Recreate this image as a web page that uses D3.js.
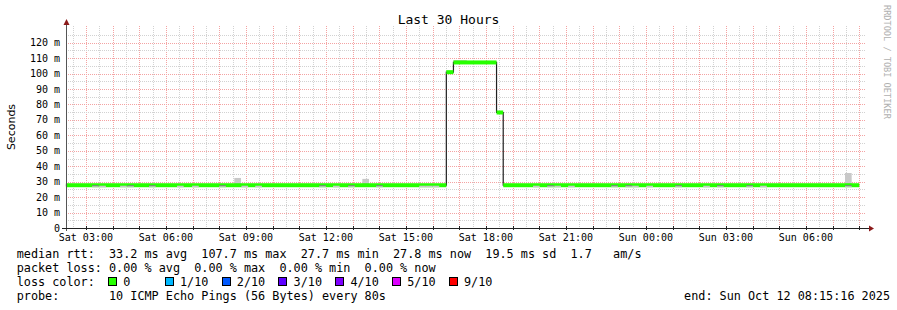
<!DOCTYPE html>
<html>
<head>
<meta charset="utf-8">
<script src="https://cdn.jsdelivr.net/npm/d3@7"></script>
<style>
  body { margin: 0; background: #fff; }
  svg { display: block; }
  .mono { font-family: 'DejaVu Sans Mono', monospace; }
</style>
</head>
<body>
<svg id="chart" width="897" height="310"></svg>
<script>
// ---- data ----
let chartTitle = 'Last 30 Hours'
let rangeStart = 'Sat 02:15:16'
let rangeEnd = 'Sun 08:15:16'

// median rtt (ms), one step per segment start, last one runs until medianUntil
let medianFrom = ['Sat 02:15', 'Sat 16:31', 'Sat 16:47', 'Sat 18:24', 'Sat 18:39']
let medianValue = [27.7, 100.9, 107.2, 74.8, 27.7]
let medianUntil = 'Sun 08:00'

// smoke above the median (light gray bumps)
let smokeUpAt = ['Sat 08:34', 'Sat 13:22', 'Sat 16:47', 'Sat 17:02', 'Sun 07:28']
let smokeUpHi = [32.4, 31.8, 108.8, 108.8, 35.6]

// smoke below the median, tone 2 = darker, 1 = lighter
let smokeDownAt = ['Sat 03:14', 'Sat 03:30', 'Sat 04:17', 'Sat 04:33', 'Sat 05:22', 'Sat 06:25',
  'Sat 06:59', 'Sat 08:00', 'Sat 08:50', 'Sat 09:21', 'Sat 11:45', 'Sat 12:16', 'Sat 12:50',
  'Sat 13:53', 'Sat 15:30', 'Sat 15:45', 'Sat 16:00', 'Sat 19:46', 'Sat 20:18', 'Sat 20:34',
  'Sat 21:05', 'Sat 22:42', 'Sat 23:14', 'Sat 23:29', 'Sun 00:01', 'Sun 01:06', 'Sun 02:09',
  'Sun 02:40', 'Sun 03:46', 'Sun 04:17', 'Sun 07:28']
let smokeDownTone = [2, 1, 1, 2, 2, 1, 1, 2, 1, 1, 2, 1, 2, 2, 1, 1, 1, 1, 2, 1, 1, 2, 2, 1, 1, 2, 1, 2, 2, 1, 2]
let smokeDownLo = 26.4
let smokeStepMin = 15

let yTicks = [0, 10, 20, 30, 40, 50, 60, 70, 80, 90, 100, 110, 120]

let legendRtt = 'median rtt:  33.2 ms avg  107.7 ms max  27.7 ms min  27.8 ms now  19.5 ms sd  1.7   am/s'
let legendLoss = 'packet loss: 0.00 % avg  0.00 % max  0.00 % min  0.00 % now'
let lossLabels = ['0', '1/10', '2/10', '3/10', '4/10', '5/10', '9/10']
let lossColors = ['#26ff00', '#00b8ff', '#0059ff', '#5e00ff', '#7e00ff', '#dd00ff', '#ff0000']
let probeText = 'probe:       10 ICMP Echo Pings (56 Bytes) every 80s'
let endText = 'end: Sun Oct 12 08:15:16 2025'

// ---- helpers ----
let parseT = (s) => {
  // 'Sat 02:15' or 'Sat 02:15:16' -> Date (Sat = Oct 11 2025, Sun = Oct 12 2025)
  let parts = s.split(' ')
  let day = parts[0] == 'Sat' ? 11 : 12
  let hms = parts[1].split(':').map(Number)
  return new Date(2025, 9, day, hms[0], hms[1], hms[2] || 0)
}
let addMin = (d, m) => new Date(d.getTime() + m * 60000)

let svg = d3.select('#chart')

let plotL = 66, plotR = 866, plotT = 26, plotB = 228

let xScale = d3.scaleTime()
  .domain([parseT(rangeStart), parseT(rangeEnd)])
  .range([plotL, plotR])
let yScale = d3.scaleLinear()
  .domain([0, 130.8])
  .range([plotB, plotT])

let crisp = (v) => Math.round(v) + 0.5

// ---- grid ----
let grid = svg.append('g')

let halfHours = d3.timeMinute.every(30).range(xScale.domain()[0], xScale.domain()[1])
halfHours.forEach(t => {
  let major = t.getMinutes() == 0
  grid.append('line')
    .attr('x1', crisp(xScale(t))).attr('x2', crisp(xScale(t)))
    .attr('y1', plotT).attr('y2', plotB)
    .attr('stroke', major ? '#f4a3a3' : '#d2d2d2')
    .attr('stroke-dasharray', '1,1')
})

let fives = d3.range(5, 130, 5)
fives.forEach(v => {
  let major = v % 10 == 0
  grid.append('line')
    .attr('x1', plotL).attr('x2', plotR)
    .attr('y1', crisp(yScale(v))).attr('y2', crisp(yScale(v)))
    .attr('stroke', major ? '#f4a3a3' : '#d2d2d2')
    .attr('stroke-dasharray', '1,1')
})

// ---- smoke above median (behind the median band) ----
let marks = svg.append('g')
let medStarts = medianFrom.map(parseT)
smokeUpAt.forEach((s, i) => {
  let t = parseT(s)
  let seg = medStarts.filter(d => d <= t).length - 1
  let base = medianValue[seg]
  marks.append('rect')
    .attr('x', xScale(t))
    .attr('width', xScale(addMin(t, smokeStepMin)) - xScale(t))
    .attr('y', yScale(smokeUpHi[i]))
    .attr('height', yScale(base) - yScale(smokeUpHi[i]))
    .attr('fill', '#c8c8c8')
})

// ---- median: black step line then loss coloured band ----
let medPts = []
medianFrom.forEach((s, i) => {
  let t0 = medStarts[i]
  let t1 = i + 1 < medianFrom.length ? medStarts[i + 1] : parseT(medianUntil)
  medPts.push([t0, medianValue[i]])
  medPts.push([t1, medianValue[i]])
})
let medLine = d3.line()
  .x(d => xScale(d[0]))
  .y(d => yScale(d[1]))
marks.append('path')
  .attr('d', medLine(medPts))
  .attr('fill', 'none')
  .attr('stroke', '#202020')
  .attr('stroke-width', 1.2)

medianFrom.forEach((s, i) => {
  let t0 = medStarts[i]
  let t1 = i + 1 < medianFrom.length ? medStarts[i + 1] : parseT(medianUntil)
  marks.append('rect')
    .attr('x', xScale(t0))
    .attr('width', xScale(t1) - xScale(t0))
    .attr('y', yScale(medianValue[i]) - 2)
    .attr('height', 4)
    .attr('fill', lossColors[0])
})

// ---- smoke below median ----
smokeDownAt.forEach((s, i) => {
  let t = parseT(s)
  let x0 = xScale(t), w = xScale(addMin(t, smokeStepMin)) - x0
  let yHi = yScale(medianValue[0]), yLo = yScale(smokeDownLo)
  if (smokeDownTone[i] == 2) {
    marks.append('rect').attr('x', x0).attr('width', w)
      .attr('y', yHi).attr('height', (yLo - yHi) / 2).attr('fill', '#857d8c')
    marks.append('rect').attr('x', x0).attr('width', w)
      .attr('y', yHi + (yLo - yHi) / 2).attr('height', (yLo - yHi) / 2).attr('fill', '#c4c4c4')
  } else {
    marks.append('rect').attr('x', x0).attr('width', w)
      .attr('y', yHi + (yLo - yHi) / 2 - 0.5).attr('height', (yLo - yHi) / 2 + 0.5).attr('fill', '#c8c8c8')
  }
})

// ---- axes ----
let axes = svg.append('g')
axes.append('line')
  .attr('x1', crisp(plotL)).attr('x2', crisp(plotL))
  .attr('y1', 24).attr('y2', plotB + 3)
  .attr('stroke', '#555')
axes.append('line')
  .attr('x1', plotL - 4).attr('x2', plotR + 4)
  .attr('y1', crisp(plotB)).attr('y2', crisp(plotB))
  .attr('stroke', '#222')
axes.append('path')
  .attr('d', `M${crisp(plotL) - 3},25 L${crisp(plotL) + 3},25 L${crisp(plotL)},19 Z`)
  .attr('fill', '#8b1a1a')
axes.append('path')
  .attr('d', `M${plotR + 3},${crisp(plotB) - 3} L${plotR + 3},${crisp(plotB) + 3} L${plotR + 8},${crisp(plotB)} Z`)
  .attr('fill', '#8b1a1a')

// x ticks and labels
let hours = d3.timeHour.every(1).range(xScale.domain()[0], xScale.domain()[1])
hours.forEach(t => {
  axes.append('line')
    .attr('x1', crisp(xScale(t))).attr('x2', crisp(xScale(t)))
    .attr('y1', plotB - 2).attr('y2', plotB + 2)
    .attr('stroke', '#222')
})
let labelHours = d3.timeHour.every(3).range(xScale.domain()[0], xScale.domain()[1])
let fmt = d3.timeFormat('%a %H:%M')
axes.selectAll('.xlab')
  .data(labelHours)
  .enter()
  .append('text')
  .attr('class', 'mono')
  .attr('x', d => xScale(d))
  .attr('y', 241)
  .attr('text-anchor', 'middle')
  .attr('font-size', '10px')
  .attr('fill', '#000')
  .text(d => fmt(d))

// y labels
axes.selectAll('.ylab')
  .data(yTicks)
  .enter()
  .append('text')
  .attr('class', 'mono')
  .attr('x', 60)
  .attr('y', d => yScale(d) + 3.5)
  .attr('text-anchor', 'end')
  .attr('font-size', '10px')
  .attr('fill', '#000')
  .text(d => d == 0 ? '0' : d + ' m')

// title, y title, watermark
svg.append('text')
  .attr('class', 'mono')
  .attr('x', 448.5).attr('y', 24)
  .attr('text-anchor', 'middle')
  .attr('font-size', '13px')
  .text(chartTitle)

svg.append('text')
  .attr('transform', 'translate(15,127) rotate(-90)')
  .attr('text-anchor', 'middle')
  .attr('font-family', 'DejaVu Sans, sans-serif')
  .attr('font-size', '11px')
  .text('Seconds')

svg.append('text')
  .attr('class', 'mono')
  .attr('transform', 'translate(884,5) rotate(90)')
  .attr('font-size', '8.6px')
  .attr('fill', '#b0b0b0')
  .text('RRDTOOL / TOBI OETIKER')

// ---- legend (monospace grid) ----
let legX = 16.7, cw = 7.1
let monoRow = (str, col, y) => {
  let xs = str.split('').map((c, i) => (legX + (col + i) * cw).toFixed(2)).join(' ')
  svg.append('text')
    .attr('class', 'mono')
    .attr('x', xs)
    .attr('y', y)
    .attr('font-size', '11.8px')
    .attr('fill', '#000')
    .style('white-space', 'pre')
    .text(str)
}
monoRow(legendRtt, 0, 258)
monoRow(legendLoss, 0, 272)
monoRow('loss color:', 0, 286)
lossLabels.forEach((lab, i) => {
  svg.append('rect')
    .attr('x', Math.round(legX + (13 + 8 * i) * cw) - 0.5)
    .attr('y', 277.5)
    .attr('width', 8).attr('height', 8)
    .attr('fill', lossColors[i])
    .attr('stroke', '#000')
  monoRow(lab, 15 + 8 * i, 286)
})
monoRow(probeText, 0, 300)
let endCol = Math.round((890 - legX) / cw) - endText.length
monoRow(endText, endCol, 300)
</script>
</body>
</html>
